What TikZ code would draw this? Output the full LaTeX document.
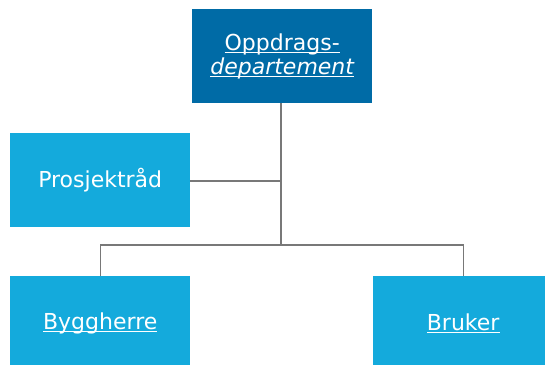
\documentclass[tikz,border=0pt]{standalone}
\usepackage{fontspec}
\setmainfont{DejaVu Sans}
% underline at a fixed depth below the baseline
\newsavebox{\ulbox}
\newcommand{\linkedtext}[1]{\sbox{\ulbox}{#1}\rlap{\rule[-2.6pt]{\wd\ulbox}{1pt}}\usebox{\ulbox}}
\definecolor{darkblue}{RGB}{0,107,166}
\definecolor{lightblue}{RGB}{20,170,220}
\definecolor{linegray}{RGB}{120,120,120}
\begin{document}
\begin{tikzpicture}[x=1pt,y=-1pt,
  orgbox/.style={minimum width=180pt,minimum height=94pt,inner sep=0pt,
    text=white,font=\fontsize{22}{24}\selectfont,align=center,anchor=north west},
  link/.style={draw=linegray,line width=1.2pt}]
\useasboundingbox (0,0) rectangle (545,364);
% boxes of the organisation chart
\node[orgbox,fill=darkblue] (dep) at (192,9) {\linkedtext{Oppdrags-}\\\linkedtext{\itshape departement}};
\node[orgbox,fill=lightblue] (raad) at (10,133) {Prosjektråd};
\node[orgbox,fill=lightblue] (bygg) at (10,276) {\linkedtext{Byggherre}};
\node[orgbox,fill=lightblue] (bruk) at (373,276) {\linkedtext{Bruker}};
% connectors
\coordinate (bus) at (281,245);
\coordinate (joint) at (281,181);
\draw[link] (dep.south -| bus) -- (bus);
\draw[link] (raad.east |- joint) -- (joint);
\draw[link] (bygg.north) -- (bygg.north |- bus) -- (bruk.north |- bus) -- (bruk.north);
\end{tikzpicture}
\end{document}
